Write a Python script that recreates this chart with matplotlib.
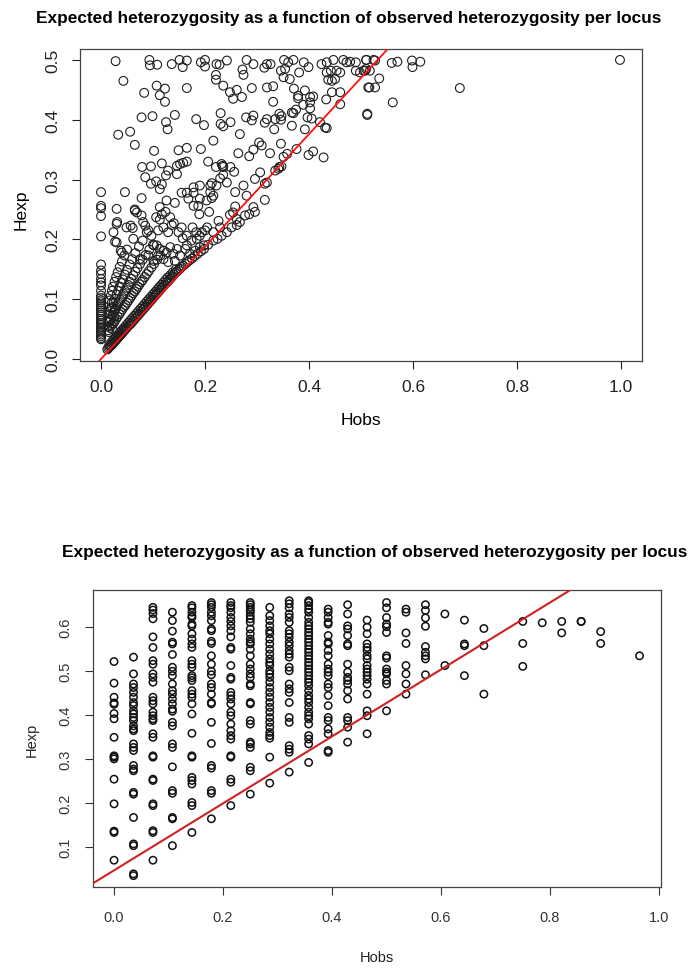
import matplotlib
matplotlib.use("Agg")
import matplotlib.pyplot as plt
from matplotlib import font_manager

names = {f.name for f in font_manager.fontManager.ttflist}
NARROW = "Liberation Sans Narrow" if "Liberation Sans Narrow" in names else "Liberation Sans"
REGULAR = "Liberation Sans"

TITLE = "Expected heterozygosity as a function of observed heterozygosity per locus"

# ---- top panel: Hobs vs Hexp per locus ----
top_zero_hexp = [0.279, 0.256, 0.252, 0.239, 0.205, 0.158, 0.148, 0.142, 0.134, 0.128,
                 0.123, 0.114, 0.106, 0.102, 0.098, 0.095, 0.091, 0.088, 0.085, 0.081,
                 0.078, 0.074, 0.071, 0.067, 0.064, 0.060, 0.057, 0.053, 0.050, 0.047,
                 0.044, 0.041, 0.038, 0.035, 0.033]

# dense band sitting just on the red line
top_band = [(0.012, 0.016), (0.014, 0.018), (0.016, 0.020), (0.018, 0.022), (0.020, 0.023),
            (0.022, 0.025), (0.024, 0.027), (0.026, 0.029), (0.028, 0.031), (0.030, 0.033),
            (0.032, 0.035), (0.034, 0.037), (0.036, 0.039), (0.038, 0.041), (0.040, 0.043),
            (0.042, 0.045), (0.044, 0.047), (0.046, 0.049), (0.048, 0.051), (0.050, 0.053),
            (0.053, 0.056), (0.056, 0.058), (0.059, 0.061), (0.062, 0.064), (0.065, 0.067),
            (0.068, 0.070), (0.071, 0.073), (0.074, 0.076), (0.077, 0.079), (0.080, 0.082),
            (0.083, 0.085), (0.086, 0.088), (0.089, 0.091), (0.092, 0.094), (0.095, 0.097),
            (0.098, 0.100), (0.101, 0.103), (0.104, 0.106), (0.107, 0.109), (0.110, 0.112),
            (0.113, 0.115), (0.116, 0.118), (0.119, 0.121), (0.122, 0.124), (0.125, 0.127),
            (0.128, 0.129), (0.131, 0.132), (0.134, 0.135), (0.137, 0.138), (0.140, 0.141),
            (0.143, 0.144), (0.146, 0.146), (0.149, 0.149), (0.152, 0.151), (0.155, 0.154),
            (0.158, 0.156), (0.162, 0.159), (0.166, 0.162), (0.170, 0.165), (0.175, 0.168),
            (0.180, 0.172), (0.186, 0.176), (0.192, 0.180), (0.198, 0.184),
            (0.016, 0.024), (0.020, 0.028), (0.024, 0.032), (0.028, 0.036), (0.032, 0.040),
            (0.036, 0.044), (0.040, 0.048), (0.044, 0.052), (0.048, 0.056), (0.052, 0.060),
            (0.056, 0.064), (0.060, 0.068), (0.064, 0.072), (0.068, 0.076), (0.072, 0.080),
            (0.076, 0.084), (0.080, 0.088), (0.084, 0.092), (0.088, 0.096), (0.092, 0.100),
            (0.096, 0.104), (0.100, 0.108), (0.104, 0.112), (0.108, 0.116), (0.112, 0.120),
            (0.116, 0.124), (0.120, 0.128), (0.124, 0.132), (0.128, 0.136), (0.133, 0.140),
            (0.138, 0.145), (0.144, 0.150)]

# fan of streaks between the zero column and the band
top_fan = [(0.014, 0.048), (0.017, 0.052), (0.020, 0.056), (0.023, 0.060), (0.026, 0.063),
           (0.029, 0.067), (0.032, 0.071), (0.035, 0.075), (0.038, 0.079), (0.041, 0.083),
           (0.044, 0.087), (0.047, 0.090), (0.050, 0.094), (0.053, 0.098), (0.056, 0.102),
           (0.059, 0.106), (0.062, 0.110), (0.065, 0.113), (0.068, 0.117), (0.071, 0.121),
           (0.074, 0.125), (0.077, 0.129), (0.080, 0.132), (0.084, 0.137), (0.088, 0.142),
           (0.092, 0.147), (0.097, 0.153), (0.102, 0.159), (0.108, 0.166), (0.114, 0.173),
           (0.121, 0.181),
           (0.016, 0.062), (0.019, 0.067), (0.022, 0.073), (0.025, 0.078), (0.028, 0.084),
           (0.031, 0.089), (0.034, 0.094), (0.037, 0.099), (0.040, 0.104), (0.043, 0.109),
           (0.046, 0.114), (0.049, 0.119), (0.052, 0.124), (0.055, 0.129), (0.058, 0.134),
           (0.062, 0.140), (0.066, 0.146), (0.070, 0.152), (0.075, 0.159), (0.080, 0.166),
           (0.086, 0.174), (0.093, 0.183), (0.100, 0.191),
           (0.018, 0.080), (0.021, 0.087), (0.024, 0.094), (0.027, 0.101), (0.030, 0.108),
           (0.033, 0.114), (0.036, 0.121), (0.039, 0.127), (0.042, 0.133), (0.046, 0.141),
           (0.050, 0.149), (0.055, 0.158), (0.060, 0.167), (0.066, 0.177), (0.073, 0.188),
           (0.080, 0.198),
           (0.017, 0.098), (0.019, 0.106), (0.021, 0.114), (0.023, 0.121), (0.026, 0.129),
           (0.029, 0.137), (0.032, 0.145), (0.036, 0.154), (0.040, 0.163), (0.045, 0.173),
           (0.050, 0.183),
           (0.015, 0.045), (0.016, 0.055), (0.017, 0.065), (0.018, 0.075), (0.019, 0.085),
           (0.021, 0.095), (0.022, 0.050), (0.024, 0.060), (0.025, 0.070), (0.026, 0.082)]

top_points = [
    (0.028, 0.498), (0.093, 0.500), (0.094, 0.491), (0.108, 0.492), (0.136, 0.493), (0.151, 0.500),
    (0.165, 0.499), (0.157, 0.488), (0.192, 0.496), (0.200, 0.500), (0.200, 0.489), (0.222, 0.493),
    (0.228, 0.492), (0.242, 0.499), (0.280, 0.500), (0.293, 0.493), (0.319, 0.493), (0.326, 0.493),
    (0.314, 0.487), (0.352, 0.500), (0.360, 0.496), (0.370, 0.500), (0.346, 0.482), (0.354, 0.485),
    (0.390, 0.496), (0.399, 0.488), (0.424, 0.493), (0.434, 0.496), (0.447, 0.500), (0.466, 0.500),
    (0.472, 0.496), (0.479, 0.497), (0.490, 0.496), (0.510, 0.500), (0.434, 0.479), (0.442, 0.482),
    (0.453, 0.482), (0.460, 0.479), (0.490, 0.482), (0.498, 0.479), (0.508, 0.482), (0.272, 0.484),
    (0.274, 0.475), (0.221, 0.475), (0.221, 0.467), (0.235, 0.457), (0.351, 0.471), (0.363, 0.468),
    (0.381, 0.479), (0.437, 0.467), (0.444, 0.465), (0.450, 0.468), (0.043, 0.465), (0.107, 0.457),
    (0.123, 0.452), (0.165, 0.453), (0.083, 0.445), (0.113, 0.441), (0.123, 0.430), (0.248, 0.446),
    (0.261, 0.450), (0.254, 0.435), (0.271, 0.438), (0.290, 0.453), (0.319, 0.454), (0.331, 0.456),
    (0.331, 0.430), (0.371, 0.452), (0.379, 0.440), (0.379, 0.436), (0.392, 0.449), (0.402, 0.438),
    (0.408, 0.439), (0.389, 0.425), (0.402, 0.419), (0.402, 0.429), (0.433, 0.434), (0.444, 0.446),
    (0.460, 0.446), (0.460, 0.426), (0.514, 0.454), (0.512, 0.410), (0.078, 0.404), (0.099, 0.406),
    (0.125, 0.396), (0.128, 0.384), (0.142, 0.408), (0.183, 0.401), (0.198, 0.391), (0.230, 0.411),
    (0.230, 0.393), (0.235, 0.389), (0.249, 0.396), (0.279, 0.404), (0.293, 0.407), (0.290, 0.399),
    (0.315, 0.395), (0.319, 0.401), (0.335, 0.401), (0.333, 0.384), (0.343, 0.410), (0.347, 0.406),
    (0.346, 0.400), (0.367, 0.412), (0.370, 0.411), (0.367, 0.390), (0.375, 0.417), (0.397, 0.404),
    (0.405, 0.402), (0.392, 0.384), (0.421, 0.396), (0.431, 0.387), (0.434, 0.386), (0.033, 0.375),
    (0.056, 0.380), (0.065, 0.358), (0.102, 0.348), (0.149, 0.349), (0.165, 0.353), (0.192, 0.351),
    (0.216, 0.365), (0.267, 0.376), (0.264, 0.344), (0.285, 0.339), (0.293, 0.350), (0.304, 0.362),
    (0.309, 0.357), (0.325, 0.344), (0.346, 0.360), (0.351, 0.338), (0.358, 0.343), (0.376, 0.351),
    (0.399, 0.341), (0.408, 0.347), (0.428, 0.337), (0.079, 0.321), (0.096, 0.322), (0.117, 0.327),
    (0.129, 0.315), (0.146, 0.323), (0.152, 0.326), (0.158, 0.328), (0.165, 0.330), (0.206, 0.330),
    (0.221, 0.321), (0.232, 0.326), (0.234, 0.323), (0.235, 0.321), (0.249, 0.321), (0.256, 0.313),
    (0.085, 0.304), (0.096, 0.293), (0.106, 0.297), (0.113, 0.284), (0.117, 0.292), (0.125, 0.307),
    (0.146, 0.309), (0.178, 0.287), (0.190, 0.290), (0.210, 0.290), (0.213, 0.294), (0.222, 0.290),
    (0.229, 0.302), (0.235, 0.308), (0.242, 0.295), (0.258, 0.279), (0.280, 0.273), (0.274, 0.290),
    (0.296, 0.301), (0.306, 0.312), (0.315, 0.293), (0.319, 0.295), (0.335, 0.315), (0.341, 0.318),
    (0.343, 0.321), (0.347, 0.322), (0.046, 0.279), (0.078, 0.269), (0.126, 0.265), (0.142, 0.261),
    (0.155, 0.278), (0.165, 0.278), (0.178, 0.278), (0.168, 0.268), (0.190, 0.268), (0.203, 0.265),
    (0.216, 0.273), (0.213, 0.269), (0.210, 0.279), (0.315, 0.266), (0.030, 0.251), (0.065, 0.250),
    (0.113, 0.254), (0.178, 0.256), (0.187, 0.256), (0.258, 0.255), (0.293, 0.254),
    # right-hand part of the cloud
    (0.510, 0.500), (0.524, 0.500), (0.527, 0.499), (0.505, 0.482), (0.510, 0.485), (0.517, 0.482),
    (0.535, 0.469), (0.516, 0.454), (0.527, 0.454), (0.559, 0.495), (0.570, 0.497), (0.598, 0.499),
    (0.599, 0.488), (0.614, 0.497), (0.561, 0.429), (0.512, 0.408), (0.690, 0.453), (0.998, 0.500),
    # lower part (Hexp < 0.25)
    (0.024, 0.212), (0.031, 0.229), (0.030, 0.226), (0.027, 0.196), (0.030, 0.195), (0.040, 0.178),
    (0.038, 0.181), (0.049, 0.220), (0.057, 0.223), (0.061, 0.219), (0.062, 0.201), (0.065, 0.248),
    (0.069, 0.245), (0.078, 0.240), (0.081, 0.229), (0.085, 0.223), (0.088, 0.212), (0.091, 0.215),
    (0.097, 0.206), (0.102, 0.190), (0.106, 0.237), (0.110, 0.215), (0.113, 0.233), (0.117, 0.242),
    (0.120, 0.220), (0.124, 0.246), (0.129, 0.212), (0.133, 0.237), (0.136, 0.224), (0.140, 0.227),
    (0.149, 0.212), (0.155, 0.220), (0.157, 0.202), (0.165, 0.206), (0.176, 0.220), (0.183, 0.212),
    (0.189, 0.242), (0.194, 0.212), (0.200, 0.215), (0.204, 0.220), (0.208, 0.246), (0.216, 0.212),
    (0.226, 0.231), (0.229, 0.220), (0.248, 0.241), (0.254, 0.245), (0.261, 0.234), (0.267, 0.229),
    (0.277, 0.240), (0.285, 0.242), (0.296, 0.246), (0.171, 0.176), (0.181, 0.181), (0.190, 0.187),
    (0.198, 0.190), (0.206, 0.191), (0.216, 0.198), (0.224, 0.201), (0.232, 0.206), (0.242, 0.212),
    (0.251, 0.220), (0.261, 0.224), (0.107, 0.190), (0.113, 0.184), (0.126, 0.178), (0.133, 0.187),
    (0.139, 0.176), (0.146, 0.184), (0.152, 0.173), (0.162, 0.184), (0.120, 0.167), (0.101, 0.164),
    (0.129, 0.162), (0.142, 0.164), (0.110, 0.173), (0.091, 0.173), (0.075, 0.167), (0.165, 0.190),
    (0.174, 0.198), (0.184, 0.201), (0.190, 0.206),
]

top_line_slope = 0.94

# ---- bottom panel: Hobs takes steps of 1/28 ----
bottom_hobs = [0.0, 0.0357, 0.0714, 0.1071, 0.1429, 0.1786, 0.2143, 0.25, 0.2857, 0.3214,
               0.3571, 0.3929, 0.4286, 0.4643, 0.5, 0.5357, 0.5714, 0.6071, 0.6429, 0.6786,
               0.75, 0.7857, 0.8214, 0.8571, 0.8929, 0.9643]
bottom_hexp = [
    [0.521, 0.472, 0.440, 0.427, 0.424, 0.403, 0.391, 0.349, 0.307, 0.304, 0.300, 0.254, 0.198, 0.136, 0.133, 0.070],
    [0.531, 0.493, 0.470, 0.462, 0.451, 0.440, 0.428, 0.421, 0.409, 0.402, 0.394, 0.387, 0.375, 0.368, 0.364, 0.334,
     0.326, 0.319, 0.285, 0.277, 0.273, 0.224, 0.220, 0.167, 0.107, 0.103, 0.039, 0.035],
    [0.644, 0.638, 0.630, 0.618, 0.577, 0.553, 0.523, 0.515, 0.493, 0.485, 0.474, 0.440, 0.432, 0.425, 0.406, 0.398,
     0.391, 0.387, 0.357, 0.349, 0.307, 0.304, 0.254, 0.251, 0.198, 0.194, 0.137, 0.133, 0.070],
    [0.633, 0.614, 0.590, 0.565, 0.561, 0.537, 0.508, 0.499, 0.489, 0.470, 0.455, 0.447, 0.436, 0.425, 0.413, 0.408,
     0.383, 0.375, 0.334, 0.326, 0.282, 0.228, 0.222, 0.167, 0.164, 0.103],
    [0.648, 0.643, 0.633, 0.625, 0.621, 0.606, 0.602, 0.584, 0.572, 0.561, 0.553, 0.523, 0.515, 0.508, 0.489, 0.484,
     0.478, 0.455, 0.447, 0.440, 0.425, 0.402, 0.358, 0.307, 0.304, 0.258, 0.251, 0.243, 0.201, 0.194, 0.133],
    [0.655, 0.650, 0.644, 0.633, 0.625, 0.614, 0.595, 0.591, 0.567, 0.562, 0.534, 0.515, 0.499, 0.491, 0.470, 0.462,
     0.447, 0.428, 0.425, 0.383, 0.335, 0.285, 0.279, 0.228, 0.222, 0.164],
    [0.655, 0.648, 0.643, 0.633, 0.621, 0.612, 0.602, 0.591, 0.577, 0.553, 0.549, 0.512, 0.485, 0.481, 0.451, 0.444,
     0.436, 0.425, 0.406, 0.398, 0.379, 0.364, 0.353, 0.345, 0.307, 0.304, 0.254, 0.247, 0.194],
    [0.655, 0.650, 0.644, 0.638, 0.633, 0.625, 0.618, 0.610, 0.595, 0.584, 0.572, 0.565, 0.561, 0.549, 0.534, 0.515,
     0.504, 0.493, 0.485, 0.470, 0.466, 0.428, 0.425, 0.387, 0.379, 0.338, 0.334, 0.326, 0.281, 0.273, 0.220],
    [0.644, 0.625, 0.614, 0.602, 0.591, 0.584, 0.572, 0.561, 0.549, 0.538, 0.527, 0.519, 0.512, 0.500, 0.493, 0.485,
     0.474, 0.462, 0.451, 0.440, 0.428, 0.417, 0.406, 0.394, 0.383, 0.372, 0.360, 0.353, 0.347, 0.304, 0.245],
    [0.659, 0.652, 0.643, 0.629, 0.621, 0.610, 0.591, 0.584, 0.576, 0.565, 0.557, 0.546, 0.538, 0.531, 0.508, 0.500,
     0.470, 0.459, 0.451, 0.428, 0.394, 0.383, 0.330, 0.322, 0.315, 0.270],
    [0.659, 0.655, 0.648, 0.640, 0.633, 0.621, 0.610, 0.602, 0.595, 0.587, 0.580, 0.572, 0.565, 0.557, 0.549, 0.542,
     0.534, 0.527, 0.519, 0.512, 0.504, 0.497, 0.489, 0.481, 0.474, 0.466, 0.455, 0.444, 0.436, 0.428, 0.417, 0.406,
     0.398, 0.391, 0.379, 0.353, 0.345, 0.334, 0.292],
    [0.640, 0.633, 0.621, 0.610, 0.606, 0.580, 0.565, 0.561, 0.546, 0.534, 0.515, 0.504, 0.497, 0.489, 0.470, 0.462,
     0.444, 0.421, 0.394, 0.387, 0.368, 0.357, 0.319, 0.315],
    [0.650, 0.629, 0.602, 0.595, 0.580, 0.561, 0.557, 0.515, 0.497, 0.485, 0.478, 0.470, 0.455, 0.436, 0.394, 0.387,
     0.372, 0.338],
    [0.615, 0.599, 0.584, 0.561, 0.553, 0.546, 0.534, 0.527, 0.512, 0.504, 0.497, 0.489, 0.481, 0.470, 0.447, 0.409,
     0.398, 0.357],
    [0.655, 0.643, 0.621, 0.606, 0.600, 0.587, 0.534, 0.529, 0.504, 0.497, 0.493, 0.478, 0.470, 0.409],
    [0.640, 0.633, 0.586, 0.562, 0.512, 0.493, 0.470, 0.447],
    [0.650, 0.637, 0.620, 0.601, 0.555, 0.542, 0.534, 0.527, 0.491],
    [0.629, 0.512],
    [0.615, 0.561, 0.557, 0.489],
    [0.596, 0.557, 0.447],
    [0.612, 0.562, 0.510],
    [0.609],
    [0.612, 0.586],
    [0.612, 0.612],
    [0.589, 0.562],
    [0.534],
]
bottom_line_intercept = 0.047
bottom_line_slope = 0.76

# flatten the top groups
top_x = [0.0] * len(top_zero_hexp) + [p[0] for p in top_band + top_fan + top_points]
top_y = list(top_zero_hexp) + [p[1] for p in top_band + top_fan + top_points]

bot_x, bot_y = [], []
for h, col in zip(bottom_hobs, bottom_hexp):
    bot_x += [h] * len(col)
    bot_y += col

fig = plt.figure(figsize=(6.94, 9.70), dpi=100)

# ---------- top ----------
ax1 = fig.add_axes([0.1156, 0.6264, 0.8092, 0.3225])
ax1.scatter(top_x, top_y, s=40, facecolors="none", edgecolors="#1e1e1e", linewidths=0.8, zorder=2)
ax1.axline((0, 0), slope=top_line_slope, color="#ff1010", lw=1.3, zorder=3)
ax1.set_xlim(-0.04, 1.04)
ax1.set_ylim(-0.004, 0.519)
ax1.set_xticks([0.0, 0.2, 0.4, 0.6, 0.8, 1.0])
ax1.set_xticklabels(["0.0", "0.2", "0.4", "0.6", "0.8", "1.0"], fontfamily=REGULAR)
ax1.set_yticks([0.0, 0.1, 0.2, 0.3, 0.4, 0.5])
ax1.set_yticklabels(["0.0", "0.1", "0.2", "0.3", "0.4", "0.5"], rotation=90, va="center", fontfamily=REGULAR)
ax1.tick_params(direction="out", length=5.5, width=0.8, labelsize=12.5, colors="#222222")
ax1.tick_params(axis="x", pad=7)
ax1.tick_params(axis="y", pad=9)
for sp in ax1.spines.values():
    sp.set_color("#444444")
    sp.set_linewidth(0.9)
fig.text(0.503, 0.9814, TITLE, ha="center", va="center", fontsize=12.4,
         fontweight="bold", fontfamily=NARROW)
fig.text(0.520, 0.567, "Hobs", ha="center", va="center", fontsize=12.5, fontfamily=REGULAR)
fig.text(0.030, 0.7835, "Hexp", ha="center", va="center", rotation=90, fontsize=12.5, fontfamily=REGULAR)

# ---------- bottom ----------
ax2 = fig.add_axes([0.134, 0.0849, 0.8179, 0.3061])
ax2.scatter(bot_x, bot_y, s=28, facecolors="none", edgecolors="#111111", linewidths=1.1, zorder=2)
ax2.axline((0, bottom_line_intercept), slope=bottom_line_slope, color="#cc2222", lw=1.5, zorder=3)
ax2.set_xlim(-0.0386, 1.0029)
ax2.set_ylim(0.010, 0.684)
ax2.set_xticks([0.0, 0.2, 0.4, 0.6, 0.8, 1.0])
ax2.set_xticklabels(["0.0", "0.2", "0.4", "0.6", "0.8", "1.0"], fontfamily=NARROW)
ax2.set_yticks([0.1, 0.2, 0.3, 0.4, 0.5, 0.6])
ax2.set_yticklabels(["0.1", "0.2", "0.3", "0.4", "0.5", "0.6"], rotation=90, va="center", fontfamily=NARROW)
ax2.tick_params(direction="out", length=5.5, width=0.8, labelsize=10.5, colors="#333333")
ax2.tick_params(axis="x", pad=11)
ax2.tick_params(axis="y", pad=9)
for sp in ax2.spines.values():
    sp.set_color("#444444")
    sp.set_linewidth(0.9)
fig.text(0.540, 0.4299, TITLE, ha="center", va="center", fontsize=12.4,
         fontweight="bold", fontfamily=NARROW)
fig.text(0.543, 0.0124, "Hobs", ha="center", va="center", fontsize=10.5, fontfamily=NARROW, color="#222222")
fig.text(0.046, 0.237, "Hexp", ha="center", va="center", rotation=90, fontsize=10.5, fontfamily=NARROW, color="#222222")

fig.savefig("out.png", dpi=100)
